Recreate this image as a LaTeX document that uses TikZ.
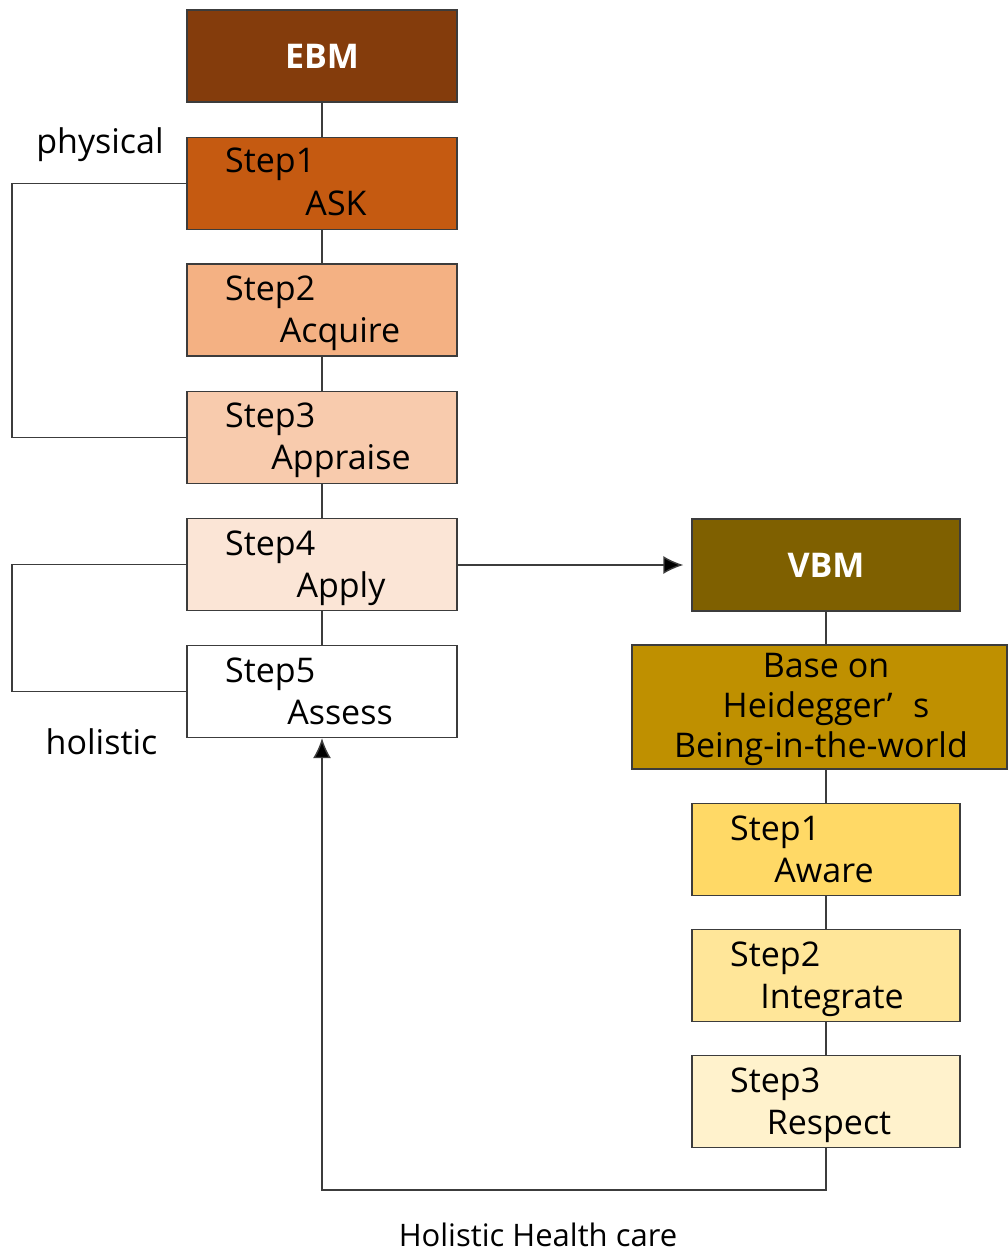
\documentclass[tikz,border=0pt]{standalone}
\usepackage{fontspec}
\setmainfont{Open Sans}
\usetikzlibrary{arrows.meta}
\definecolor{cebm}{HTML}{843C0C}
\definecolor{cs1}{HTML}{C55A11}
\definecolor{cs2}{HTML}{F4B183}
\definecolor{cs3}{HTML}{F8CBAD}
\definecolor{cs4}{HTML}{FBE5D6}
\definecolor{cvbm}{HTML}{7F6000}
\definecolor{cbase}{HTML}{BF9000}
\definecolor{cr1}{HTML}{FFD966}
\definecolor{cr2}{HTML}{FFE699}
\definecolor{cr3}{HTML}{FFF2CC}
\definecolor{cline}{HTML}{3C3C3C}
\tikzset{
  box/.style={draw=cline, line width=1.4pt, rectangle, inner sep=0pt, minimum width=270pt, minimum height=92pt},
  txt/.style={font=\fontsize{34}{40}\selectfont, inner sep=0pt, text=black},
  head/.style={font=\fontsize{34}{40}\selectfont\bfseries, inner sep=0pt, text=white},
  conn/.style={draw=cline, line width=1.4pt},
  arr/.style={conn, -{Latex[length=20pt,width=18pt,fill=black]}}
}
\begin{document}
\begin{tikzpicture}[x=1pt,y=-1pt]
\useasboundingbox[fill=white] (0,0) rectangle (1008,1251);
% left column
\node[box, fill=cebm] (ebm) at (322,56) {};
\node[box, fill=cs1] (s1) at (322,183.5) {};
\node[box, fill=cs2] (s2) at (322,310) {};
\node[box, fill=cs3] (s3) at (322,437.5) {};
\node[box, fill=cs4] (s4) at (322,564.5) {};
\node[box, fill=white] (s5) at (322,691.5) {};
% right column
\node[box, fill=cvbm, minimum width=268pt] (vbm) at (826,565) {};
\node[box, fill=cbase, minimum width=375pt, minimum height=124pt] (base) at (819.5,707) {};
\node[box, fill=cr1, minimum width=268pt] (r1) at (826,849.5) {};
\node[box, fill=cr2, minimum width=268pt] (r2) at (826,975.5) {};
\node[box, fill=cr3, minimum width=268pt] (r3) at (826,1101.5) {};
% texts
\node[head] (ebmt) at (322,56) {EBM};
\node[txt, anchor=base west] (s1a) at (225,172) {Step1};
\node[txt, anchor=base] (s1b) at (336,215) {ASK};
\node[txt, anchor=base west] (s2a) at (225,300) {Step2};
\node[txt, anchor=base] (s2b) at (340,342) {Acquire};
\node[txt, anchor=base west] (s3a) at (225,427) {Step3};
\node[txt, anchor=base] (s3b) at (341,469) {Appraise};
\node[txt, anchor=base west] (s4a) at (225,555) {Step4};
\node[txt, anchor=base] (s4b) at (341,597) {Apply};
\node[txt, anchor=base west] (s5a) at (225,682) {Step5};
\node[txt, anchor=base] (s5b) at (340,724) {Assess};
\node[head] (vbmt) at (826,565) {VBM};
\node[txt, anchor=base] (ba) at (826,677) {Base on};
\node[txt, anchor=base] (bb) at (826,717) {Heidegger’\hspace{0.6em}s};
\node[txt, anchor=base] (bc) at (821,757) {Being-in-the-world};
\node[txt, anchor=base west] (r1a) at (730,840) {Step1};
\node[txt, anchor=base] (r1b) at (824,882) {Aware};
\node[txt, anchor=base west] (r2a) at (730,966) {Step2};
\node[txt, anchor=base] (r2b) at (832,1008) {Integrate};
\node[txt, anchor=base west] (r3a) at (730,1092) {Step3};
\node[txt, anchor=base] (r3b) at (829,1134) {Respect};
\node[txt, anchor=base] (phys) at (100,153) {physical};
\node[txt, anchor=base] (holi) at (101.5,754) {holistic};
\node[txt, anchor=base, font=\fontsize{31}{37}\selectfont] (hhc) at (538,1246) {Holistic Health care};
% connectors
\draw[conn] (ebm) -- (s1);
\draw[conn] (s1) -- (s2);
\draw[conn] (s2) -- (s3);
\draw[conn] (s3) -- (s4);
\draw[conn] (s4) -- (s5);
\draw[conn] (vbm.south) -- (vbm.south |- base.north);
\draw[conn] (r1.north |- base.south) -- (r1.north);
\draw[conn] (r1) -- (r2);
\draw[conn] (r2) -- (r3);
\draw[conn] (s1.west) -- (12,183.5) -- (12,437.5) -- (s3.west);
\draw[conn] (s4.west) -- (12,564.5) -- (12,691.5) -- (s5.west);
\draw[arr] (s4.east |- vbm.west) -- ([xshift=-8pt]vbm.west);
\coordinate (bend) at (826,1190);
\draw[arr] (r3.south) -- (bend) -| (s5.south);
\end{tikzpicture}
\end{document}
